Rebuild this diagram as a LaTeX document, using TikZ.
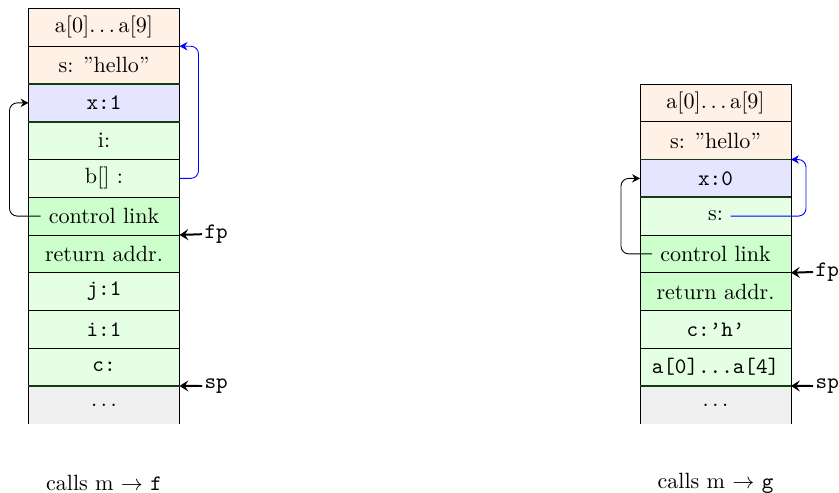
\documentclass[tikz,border=0pt]{standalone}
\usetikzlibrary{arrows.meta,calc}

\definecolor{globalbg}{RGB}{255,241,229}
\definecolor{mainbg}{RGB}{229,229,255}
\definecolor{localbg}{RGB}{229,255,229}
\definecolor{linkbg}{RGB}{204,255,204}
\definecolor{freebg}{RGB}{240,240,240}
\definecolor{framesep}{RGB}{20,60,20}

\tikzset{
  cell/.style={draw=black, line width=0.4pt, minimum width=68.4pt, minimum height=17.1pt,
               inner sep=0pt, outer sep=0pt, anchor=center},
  glob/.style={cell, fill=globalbg},
  mainf/.style={cell, fill=mainbg},
  loc/.style={cell, fill=localbg},
  lnk/.style={cell, fill=linkbg},
  free/.style={cell, draw=none, fill=freebg},
  sepline/.style={draw=framesep, line width=0.8pt},
  ctrl/.style={draw=black, line width=0.4pt, rounded corners=3.5pt,
               -{Stealth[length=3.6pt,width=3.8pt,inset=1.2pt]}},
  access/.style={draw=blue, line width=0.4pt, rounded corners=3.5pt,
               -{Stealth[length=3.6pt,width=3.8pt,inset=1.2pt]}},
  ptr/.style={draw=black, line width=0.9pt, -{Stealth[length=4pt,width=5pt,inset=1.6pt]}},
  ptrlabel/.style={anchor=west, inner sep=1pt, font=\ttfamily},
  caption/.style={inner sep=0pt}
}

\begin{document}
\begin{tikzpicture}[x=0.4529pt, y=-0.4529pt]
\useasboundingbox (0,0) rectangle (839,493);

% ---------- stack while m calls f ----------
\node[glob]  (L1)  at (104, 27.4)  {a[0]$\ldots\,$a[9]};
\node[glob]  (L2)  at (104, 65.1)  {s: \textquotedblright hello\textquotedblright};
\node[mainf] (L3)  at (104, 102.9) {\texttt{x:1}};
\node[loc]   (L4)  at (104, 140.6) {i:};
\node[loc]   (L5)  at (104, 178.4) {b[] :};
\node[lnk]   (L6)  at (104, 216.1) {control link};
\node[lnk]   (L7)  at (104, 253.9) {return addr.};
\node[loc]   (L8)  at (104, 291.6) {\texttt{j:1}};
\node[loc]   (L9)  at (104, 329.4) {\texttt{i:1}};
\node[loc]   (L10) at (104, 367.1) {\texttt{c:}};
\node[free]  (L11) at (104, 404.9) {$\ldots$};
\draw (L11.north west) -- (L11.south west);
\draw (L11.north east) -- (L11.south east);

\draw[sepline] (L2.south west) -- (L2.south east);
\draw[sepline] (L3.south west) -- (L3.south east);
\draw[sepline] (L10.south west) -- (L10.south east);

\coordinate (Lcl) at ($(L6.center)+(-63.5,0)$);
\draw[ctrl] (Lcl) -| ($(L3.west)+(-19,0)$) -- (L3.west);
\draw[access] (L5.east) -| ($(L2.north east)+(19,0)$) -- (L2.north east);

\node[ptrlabel] (fpL) at (202, 234.2) {fp};
\draw[ptr] (fpL.west) -- (L6.south east);
\node[ptrlabel] (spL) at (202, 386) {sp};
\draw[ptr] (spL.west) -- (L10.south east);

\node[caption] (capL) at (104, 483) {calls m $\rightarrow$ \texttt{f}};

% ---------- stack while m calls g ----------
\node[glob]  (R1) at (715.5, 102.9) {a[0]$\ldots\,$a[9]};
\node[glob]  (R2) at (715.5, 140.6) {s: \textquotedblright hello\textquotedblright};
\node[mainf] (R3) at (715.5, 178.4) {\texttt{x:0}};
\node[loc]   (R4) at (715.5, 216.1) {s:};
\node[lnk]   (R5) at (715.5, 253.9) {control link};
\node[lnk]   (R6) at (715.5, 291.6) {return addr.};
\node[loc]   (R7) at (715.5, 329.4) {\texttt{c:\textquoteright h\textquoteright}};
\node[loc]   (R8) at (715.5, 367.1) {\texttt{a[0]...a[4]}};
\node[free]  (R9) at (715.5, 404.9) {$\ldots$};
\draw (R9.north west) -- (R9.south west);
\draw (R9.north east) -- (R9.south east);

\draw[sepline] (R2.south west) -- (R2.south east);
\draw[sepline] (R3.south west) -- (R3.south east);
\draw[sepline] (R8.south west) -- (R8.south east);

\coordinate (Rcl) at ($(R5.center)+(-63.5,0)$);
\draw[ctrl] (Rcl) -| ($(R3.west)+(-19,0)$) -- (R3.west);
\coordinate (Rs) at ($(R4.center)+(15,0)$);
\draw[access] (Rs) -| ($(R3.north east)+(15,0)$) -- (R3.north east);

\node[ptrlabel] (fpR) at (813, 272) {fp};
\draw[ptr] (fpR.west) -- (R5.south east);
\node[ptrlabel] (spR) at (813, 386) {sp};
\draw[ptr] (spR.west) -- (R8.south east);

\node[caption] (capR) at (715.5, 483) {calls m $\rightarrow$ \texttt{g}};
\end{tikzpicture}
\end{document}
